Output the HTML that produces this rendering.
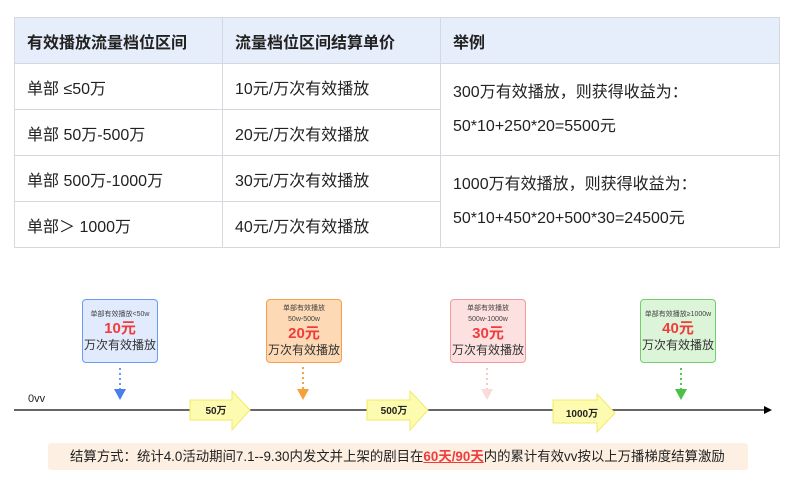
<!DOCTYPE html><html><head><meta charset="utf-8"><style>
body{margin:0;width:800px;height:485px;background:#fff;font-family:"Liberation Sans","Noto Sans CJK SC",sans-serif;position:relative;overflow:hidden;color:#222}
table{position:absolute;left:14px;top:17px;width:766px;border-collapse:collapse;font-size:16px}
td,th{border:1px solid #d5d8de;padding:0 0 0 12px;text-align:left;height:45px}
th{background:#e6eefb;font-weight:bold;font-size:16px}
.b{position:absolute;border:1.5px solid;border-radius:4px;text-align:center;box-sizing:border-box;width:76px;height:64px}
.s{font-size:7px;color:#444;line-height:11px}
.p{font-size:15px;font-weight:bold;color:#f03c3c;line-height:18px}
.t{font-size:12px;color:#333;line-height:14px}
.a{position:absolute}
</style></head><body>
<table>
<tr><th style="width:195px">有效播放流量档位区间</th><th style="width:205px">流量档位区间结算单价</th><th>举例</th></tr>
<tr><td>单部 ≤50万</td><td>10元/万次有效播放</td><td rowspan="2" style="line-height:34px">300万有效播放，则获得收益为：<br>50*10+250*20=5500元</td></tr>
<tr><td>单部 50万-500万</td><td>20元/万次有效播放</td></tr>
<tr><td>单部 500万-1000万</td><td>30元/万次有效播放</td><td rowspan="2" style="line-height:34px">1000万有效播放，则获得收益为：<br>50*10+450*20+500*30=24500元</td></tr>
<tr><td>单部＞ 1000万</td><td>40元/万次有效播放</td></tr>
</table>
<div class="b" style="left:82px;top:299px;background:#e2eafd;border-color:#6b9af5;padding-top:9px"><div class="s">单部有效播放&lt;50w</div><div class="p">10元</div><div class="t">万次有效播放</div></div>
<div class="b" style="left:266px;top:299px;background:#fdd9b5;border-color:#f5a04a;padding-top:3px"><div class="s">单部有效播放<br>50w-500w</div><div class="p">20元</div><div class="t">万次有效播放</div></div>
<div class="b" style="left:450px;top:299px;background:#fde0e0;border-color:#f59a9a;padding-top:3px"><div class="s">单部有效播放<br>500w-1000w</div><div class="p">30元</div><div class="t">万次有效播放</div></div>
<div class="b" style="left:640px;top:299px;background:#dcf5d8;border-color:#6fd06a;padding-top:9px"><div class="s">单部有效播放≥1000w</div><div class="p">40元</div><div class="t">万次有效播放</div></div>
<svg class="a" style="left:0;top:0" width="800" height="485">
<line x1="14" y1="410" x2="765" y2="410" stroke="#333" stroke-width="1.5"/>
<polygon points="772,410 764,406 764,414" fill="#000"/>
<g stroke-dasharray="2,3" stroke-width="2">
<line x1="120" y1="368" x2="120" y2="389" stroke="#6b9af5"/>
<line x1="303" y1="367" x2="303" y2="389" stroke="#f5a04a"/>
<line x1="487" y1="368" x2="487" y2="389" stroke="#f8c8c8"/>
<line x1="681" y1="368" x2="681" y2="389" stroke="#55c650"/>
</g>
<polygon points="114,389 126,389 120,400" fill="#4a7df0"/>
<polygon points="297,389 309,389 303,400" fill="#f5a03a"/>
<polygon points="481,389 493,389 487,400" fill="#fadada"/>
<polygon points="675,389 687,389 681,400" fill="#4ac045"/>
<g fill="#fdfbb0" stroke="#f2ea6a" stroke-width="1">
<polygon points="190,400 232,400 232,391 250,410 232,430 232,420 190,420"/>
<polygon points="367,400 410,400 410,391 428,410 410,430 410,420 367,420"/>
<polygon points="553,400 597,400 597,394 615,413 597,432 597,423 553,423"/>
</g>
<g font-size="10" font-weight="bold" fill="#222" text-anchor="middle">
<text x="216" y="414">50万</text><text x="394" y="414">500万</text><text x="582" y="417">1000万</text>
</g>
<text x="28" y="402" font-size="11" fill="#222">0vv</text>
</svg>
<div class="a" style="left:48px;top:443px;width:700px;height:27px;background:#fdf0e2;border-radius:3px;font-size:13.4px;line-height:27px;padding-left:22px;box-sizing:border-box;white-space:nowrap">结算方式：统计4.0活动期间7.1--9.30内发文并上架的剧目在<b style="color:#f03c3c;text-decoration:underline">60天/90天</b>内的累计有效vv按以上万播梯度结算激励</div>
</body></html>
